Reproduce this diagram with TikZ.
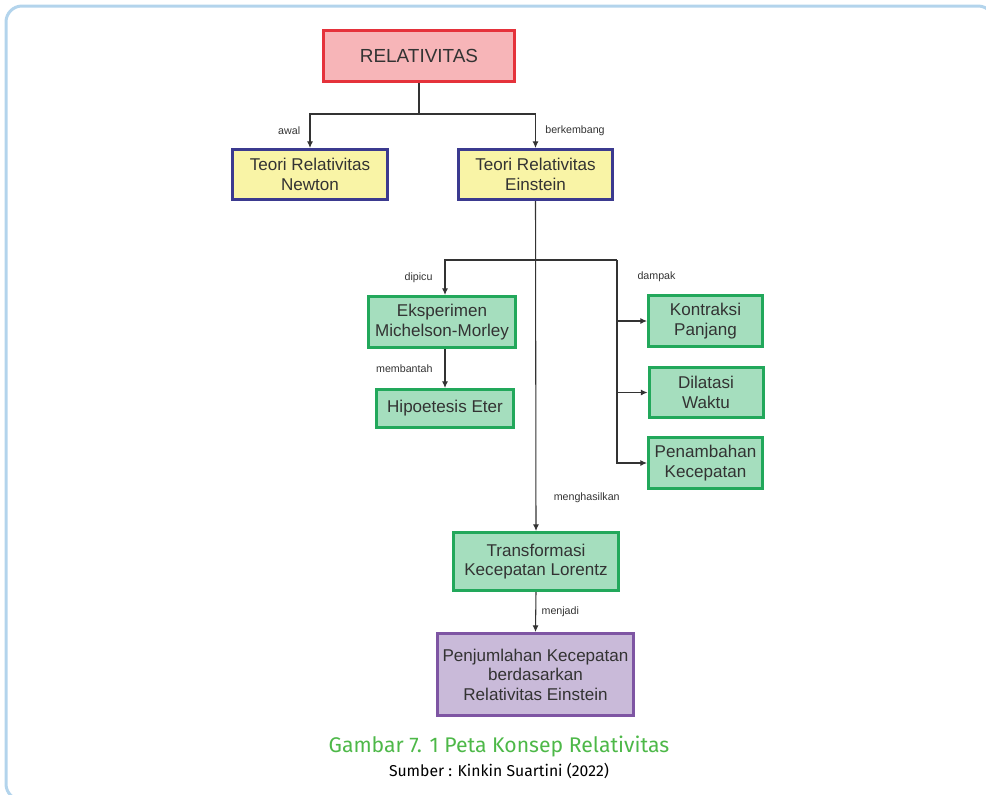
\documentclass[tikz,border=0pt]{standalone}
\usepackage{fontspec}
\setmainfont{Liberation Sans}
\newfontfamily\capfont{Fira Sans}
\usepackage{xcolor}
\usetikzlibrary{arrows.meta,positioning}
\definecolor{relRed}{HTML}{E5323B}
\definecolor{relPink}{HTML}{F7B5B8}
\definecolor{thBlue}{HTML}{3B3A8F}
\definecolor{thYellow}{HTML}{F9F4A6}
\definecolor{cnGreen}{HTML}{22A85B}
\definecolor{cnMint}{HTML}{A5DEBE}
\definecolor{sumPurple}{HTML}{7E55A3}
\definecolor{sumLilac}{HTML}{C9BAD9}
\definecolor{frameBlue}{HTML}{B3D4EC}
\definecolor{capGreen}{HTML}{4DB848}
\definecolor{inkGrey}{HTML}{333333}

\begin{document}
\begin{tikzpicture}[
  x=0.75pt, y=-0.75pt,
  >=Latex,
  box/.style={draw, line width=2.25pt, align=center, inner sep=2pt,
              text=inkGrey, font=\fontsize{12.8}{14.6}\selectfont},
  rootbox/.style={box, draw=relRed, fill=relPink, font=\fontsize{14.2}{16}\selectfont,
                  minimum width=143pt, minimum height=38pt},
  theorybox/.style={box, draw=thBlue, fill=thYellow, minimum height=37.5pt},
  conceptbox/.style={box, draw=cnGreen, fill=cnMint},
  resultbox/.style={box, draw=sumPurple, fill=sumLilac},
  tag/.style={font=\fontsize{8}{9}\selectfont, text=inkGrey, inner sep=1pt},
  link/.style={draw=inkGrey, line width=0.8pt},
  arr/.style={link, -{Latex[length=5pt,width=4.5pt]}}
]
\useasboundingbox (0,0) rectangle (986,794);
\draw[frameBlue, line width=2.25pt, rounded corners=12pt] (6,6) rectangle (994,800);

% boxes
\node[rootbox] (rel) at (419,56) {RELATIVITAS};
\node[theorybox, minimum width=116pt] (newton) at (310,174.5) {Teori Relativitas\\Newton};
\node[theorybox, minimum width=115.5pt] (ein) at (535.5,174.5) {Teori Relativitas\\Einstein};
\node[conceptbox, minimum width=110pt, minimum height=38.25pt] (eks) at (442,322) {Eksperimen\\Michelson-Morley};
\node[conceptbox, minimum width=102.75pt, minimum height=28.5pt] (eter) at (445,408.5) {Hipoetesis Eter};
\node[conceptbox, minimum width=85.5pt, minimum height=38.25pt] (kon) at (705.5,321) {Kontraksi\\Panjang};
\node[conceptbox, minimum width=85.5pt, minimum height=37.5pt] (dil) at (706,392.5) {Dilatasi\\Waktu};
\node[conceptbox, minimum width=85.5pt, minimum height=38.25pt] (pen) at (705.5,463) {Penambahan\\Kecepatan};
\node[conceptbox, minimum width=123.75pt, minimum height=43.5pt] (trans) at (536,561.5) {Transformasi\\Kecepatan Lorentz};
\node[resultbox, minimum width=147pt, minimum height=61.5pt] (pj) at (535.5,674.5) {Penjumlahan Kecepatan\\berdasarkan\\Relativitas Einstein};

% branch points
\coordinate (fork) at (419,114);
\coordinate (split) at (535.5,260);
\coordinate (dmp) at (617,260);

\draw[link] (rel.south) -- (fork);
\draw[arr] (fork) -| node[pos=0.75,left=6pt,tag] {awal} (newton.north);
\draw[arr] (fork) -| node[pos=0.75,right=6pt,tag] {berkembang} (ein.north);

\draw[arr] (ein.south) -- node[pos=0.9,right=12pt,tag] {menghasilkan} (trans.north);
\draw[link] (split) -- (dmp);
\draw[arr] (split) -| node[pos=0.75,left=8pt,tag] {dipicu} (eter.north |- eks.north);
\draw[arr] (eks.south -| eter.north) -- node[midway,left=8pt,tag] {membantah} (eter.north);
\draw[arr] (dmp) |- node[pos=0.14,right=14pt,tag] {dampak} (kon.west);
\draw[arr] (dmp) |- (dil.west);
\draw[arr] (dmp) |- (pen.west);
\draw[arr] (trans.south) -- node[midway,right=3pt,tag] {menjadi} (pj.north);

% caption
\node[font=\capfont\fontsize{15.9}{18}\selectfont, text=capGreen] (cap) at (499,746) {Gambar 7. 1 Peta Konsep Relativitas};
\node[font=\capfont\fontsize{11.8}{13}\selectfont, below=-2pt of cap] (src) {Sumber : Kinkin Suartini (2022)};
\end{tikzpicture}
\end{document}
